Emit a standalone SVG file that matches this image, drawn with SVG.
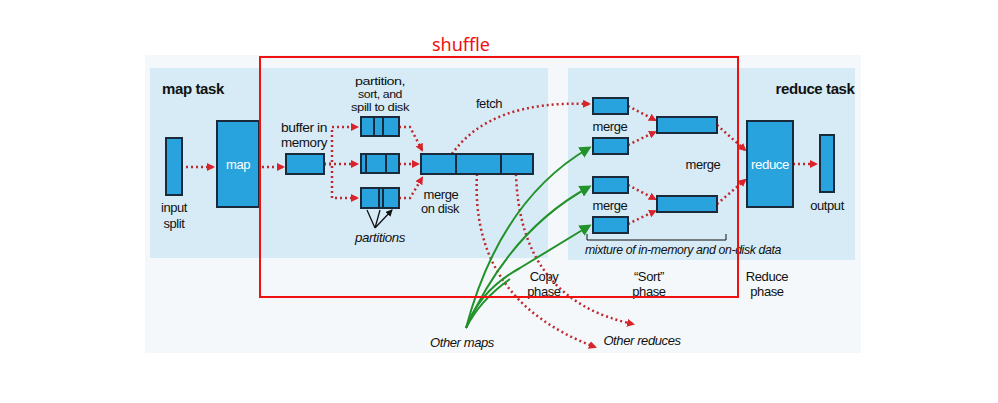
<svg xmlns="http://www.w3.org/2000/svg" width="998" height="403" viewBox="0 0 998 403">
<defs>
<style>
.b{fill:#29a3dd;stroke:#1a2a3a;stroke-width:2}
.t{font-family:"Liberation Sans",sans-serif;font-size:13px;fill:#111;text-anchor:middle;letter-spacing:-0.4px}
.s{font-size:11.5px}
.bd{font-weight:bold;font-size:15px}
.it{font-style:italic}
.r{fill:none;stroke:#c0282d;stroke-width:2.5;stroke-dasharray:2 3}
.g{fill:none;stroke:#22922a;stroke-width:2}
</style>
<marker id="ar" markerWidth="8" markerHeight="8" refX="6" refY="4" orient="auto" markerUnits="userSpaceOnUse" viewBox="0 0 8 8"><path d="M0,0L8,4L0,8z" fill="#d8232a"/></marker>
<marker id="ag" markerWidth="12" markerHeight="12" refX="9" refY="6" orient="auto" markerUnits="userSpaceOnUse" viewBox="0 0 12 12"><path d="M0,0L12,6L0,12z" fill="#22922a"/></marker>
<marker id="ak" markerWidth="7" markerHeight="7" refX="6" refY="3.5" orient="auto" markerUnits="userSpaceOnUse"><path d="M0,0L7,3.5L0,7z" fill="#111"/></marker>
</defs>
<rect width="998" height="403" fill="#fff"/>
<rect x="145" y="55" width="716" height="298" fill="#f4f8fb"/>
<rect x="150" y="68" width="398" height="190" fill="#d6ebf6"/>
<rect x="568" y="68" width="287" height="192" fill="#d6ebf6"/>
<g id="connectors">
<path class="r" d="M186,167H213" marker-end="url(#ar)"/>
<path class="r" d="M262,167H283" marker-end="url(#ar)"/>
<path class="r" d="M324,164H332V127H357" marker-end="url(#ar)"/>
<path class="r" d="M324,164H357" marker-end="url(#ar)"/>
<path class="r" d="M324,164H332V198H357" marker-end="url(#ar)"/>
<path class="r" d="M399,127H410L422,150" marker-end="url(#ar)"/>
<path class="r" d="M399,164H418" marker-end="url(#ar)"/>
<path class="r" d="M399,198H410L422,178" marker-end="url(#ar)"/>
<path class="r" d="M452,154Q490,100 589,104" marker-end="url(#ar)"/>
<path class="r" d="M477,174Q470,300 595,347" marker-end="url(#ar)"/>
<path class="r" d="M516,174Q520,300 633,324" marker-end="url(#ar)"/>
<path class="r" d="M628,106L655,120" marker-end="url(#ar)"/>
<path class="r" d="M628,145L655,132" marker-end="url(#ar)"/>
<path class="r" d="M628,185L655,199" marker-end="url(#ar)"/>
<path class="r" d="M628,224L655,211" marker-end="url(#ar)"/>
<path class="r" d="M717,125L745,150" marker-end="url(#ar)"/>
<path class="r" d="M717,204L745,180" marker-end="url(#ar)"/>
<path class="r" d="M793,164H816" marker-end="url(#ar)"/>
<path class="g" d="M466,328Q500,200 589,148" marker-end="url(#ag)"/>
<path class="g" d="M466,328Q510,230 589,187" marker-end="url(#ag)"/>
<path class="g" d="M466,328Q480,290 520,268L589,226" marker-end="url(#ag)"/>
<path class="g" d="M466,328Q480,300 510,279"/>
<path d="M375,228L367,210M375,228L380,210M375,228L392,210" stroke="#111" stroke-width="1.3" fill="none" marker-end="url(#ak)"/>
<path d="M587,234V240H726V234" stroke="#111" fill="none"/>
</g>
<g id="input-split"><rect class="b" x="166" y="138" width="16" height="57"/><text class="t" x="174" y="212">input</text><text class="t" x="174" y="228">split</text></g>
<g id="map"><rect class="b" x="217" y="121" width="42" height="86"/><text class="t" x="238" y="169" style="fill:#fff">map</text></g>
<g id="map-task"><text class="t bd" x="193" y="94">map task</text></g>
<g id="buffer"><rect class="b" x="286" y="154" width="38" height="20"/><text class="t" x="304" y="132" textLength="46" lengthAdjust="spacingAndGlyphs">buffer in</text><text class="t" x="304" y="147" textLength="46" lengthAdjust="spacingAndGlyphs">memory</text></g>
<g id="spills">
<rect class="b" x="361" y="117" width="38" height="19"/><path d="M374,117V136M383,117V136" stroke="#1a2a3a" stroke-width="2"/>
<rect class="b" x="361" y="154" width="38" height="19"/><path d="M366,154V173M386,154V173" stroke="#1a2a3a" stroke-width="2"/>
<rect class="b" x="361" y="188" width="38" height="20"/><path d="M379,188V208M383,188V208" stroke="#1a2a3a" stroke-width="2"/>
<text class="t s" x="380" y="85" textLength="50" lengthAdjust="spacingAndGlyphs">partition,</text><text class="t s" x="380" y="98" textLength="44" lengthAdjust="spacingAndGlyphs">sort, and</text><text class="t s" x="380" y="111" textLength="58" lengthAdjust="spacingAndGlyphs">spill to disk</text>
<text class="t it" x="380" y="242" textLength="50" lengthAdjust="spacingAndGlyphs">partitions</text>
</g>
<g id="merge-disk"><rect class="b" x="421" y="154" width="112" height="20"/><path d="M456,154V174M501,154V174" stroke="#1a2a3a" stroke-width="2"/><text class="t" x="441" y="199">merge</text><text class="t" x="440" y="213" textLength="38" lengthAdjust="spacingAndGlyphs">on disk</text><text class="t" x="489" y="108">fetch</text></g>
<g id="reduce-merges">
<rect class="b" x="593" y="98" width="35" height="16"/><rect class="b" x="593" y="138" width="35" height="16"/>
<rect class="b" x="593" y="177" width="35" height="16"/><rect class="b" x="593" y="217" width="35" height="16"/>
<text class="t" x="610" y="131">merge</text><text class="t" x="610" y="210">merge</text>
<text class="t" x="703" y="169">merge</text>
<rect class="b" x="657" y="117" width="60" height="16"/><rect class="b" x="657" y="196" width="60" height="16"/>
<text class="t it" x="683" y="254" textLength="196" lengthAdjust="spacingAndGlyphs">mixture of in-memory and on-disk data</text>
</g>
<g id="reduce"><rect class="b" x="747" y="121" width="46" height="86"/><text class="t" x="770" y="169" style="fill:#fff" textLength="38" lengthAdjust="spacingAndGlyphs">reduce</text></g>
<g id="output"><rect class="b" x="820" y="135" width="14" height="57"/><text class="t" x="827" y="210">output</text><text class="t bd" x="815" y="94">reduce task</text></g>
<g id="phases">
<text class="t" x="544" y="281">Copy</text><text class="t" x="544" y="296">phase</text>
<text class="t" x="649" y="281">“Sort”</text><text class="t" x="649" y="296">phase</text>
<text class="t" x="767" y="281">Reduce</text><text class="t" x="767" y="296">phase</text>
<text class="t it" x="462" y="347">Other maps</text><text class="t it" x="642" y="345">Other reduces</text>
</g>
<g id="shuffle"><rect x="260" y="57" width="478" height="240" fill="none" stroke="#f01010" stroke-width="2"/><text x="461" y="51" font-family="'Noto Sans',sans-serif" font-size="18" fill="#f01010" text-anchor="middle">shuffle</text></g>
</svg>
